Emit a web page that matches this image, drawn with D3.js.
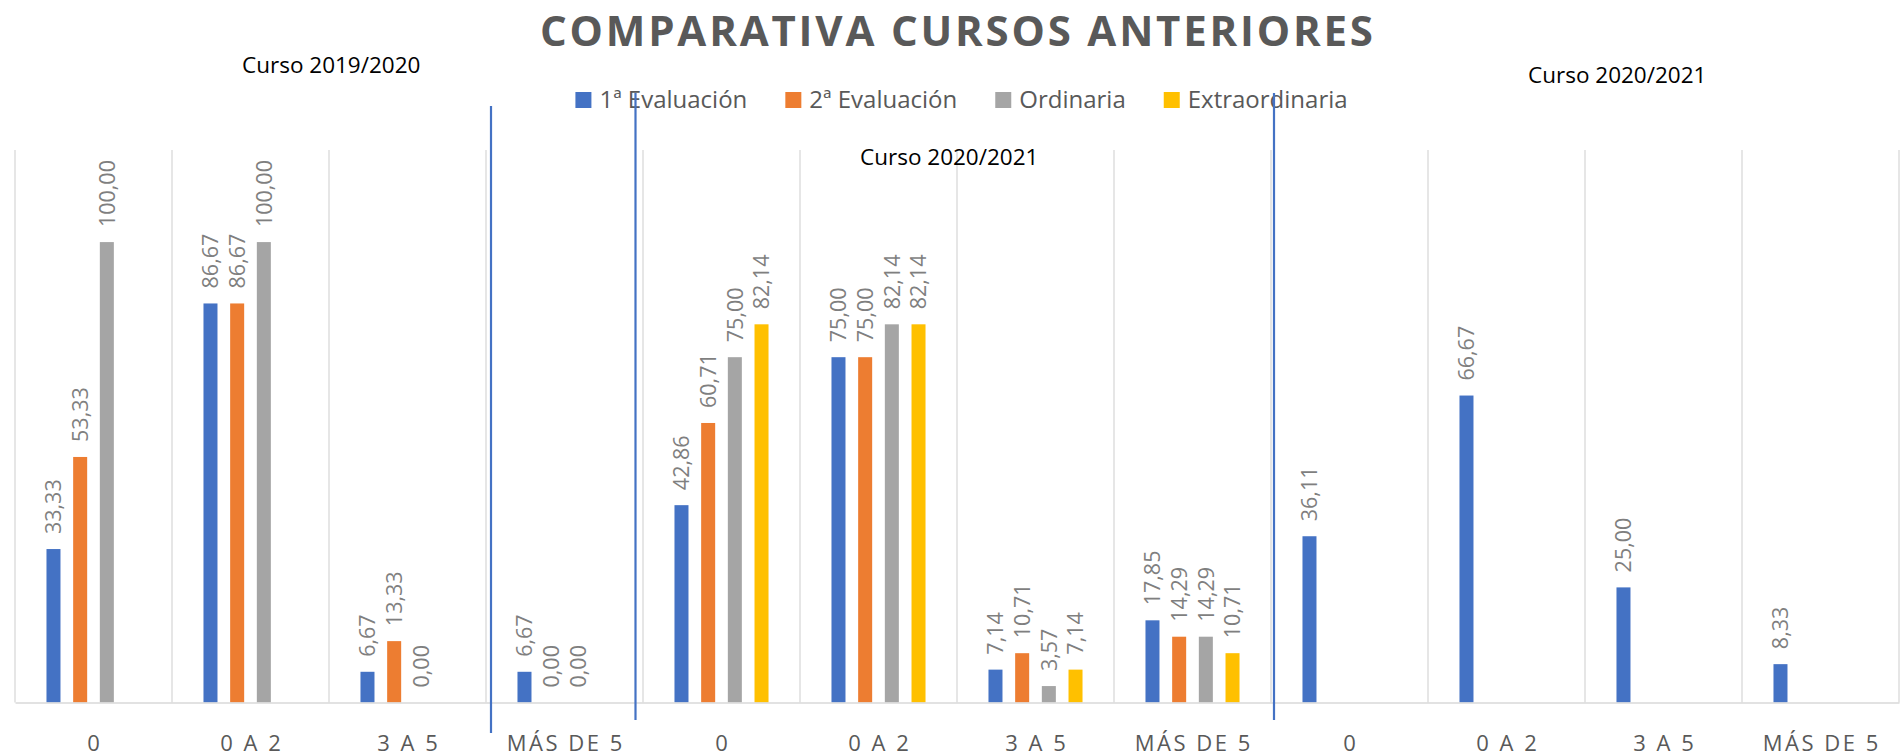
<!DOCTYPE html>
<html>
<head>
<meta charset="utf-8">
<script src="https://cdn.jsdelivr.net/npm/d3@7"></script>
<style>
  body { margin: 0; background: #fff; }
  svg { display: block; font-family: 'Open Sans', sans-serif; }
</style>
</head>
<body>
<div id="chart"></div>
<script>
const categories = ['0', '0 A 2', '3 A 5', 'MÁS DE 5'];
const courses = ['Curso 2019/2020', 'Curso 2020/2021', 'Curso 2020/2021'];
const seriesNames = ['1ª Evaluación', '2ª Evaluación', 'Ordinaria', 'Extraordinaria'];
const colors = ['#4472C4', '#ED7D31', '#A5A5A5', '#FFC000'];

// 12 slots: 4 categories for each of the 3 blocks
const eval1 = [33.33, 86.67, 6.67, 6.67, 42.86, 75.00, 7.14, 17.85, 36.11, 66.67, 25.00, 8.33];
const eval2 = [53.33, 86.67, 13.33, 0.00, 60.71, 75.00, 10.71, 14.29, null, null, null, null];
const ordinaria = [100.00, 100.00, 0.00, 0.00, 75.00, 82.14, 3.57, 14.29, null, null, null, null];
const extraordinaria = [null, null, null, null, 82.14, 82.14, 7.14, 10.71, null, null, null, null];

const seriesValues = [eval1, eval2, ordinaria, extraordinaria];

const width = 1901, height = 755;
const plot = { left: 15, right: 1899, top: 150, bottom: 702.5 };

const slots = d3.range(12);
const rows = slots.map(i => ({
    slot: i,
    category: categories[i % 4],
    values: seriesValues.map((s, k) => ({ series: k, value: s[i] }))
}));

const fmt = d3.formatLocale({ decimal: ',', thousands: '.', grouping: [3], currency: ['', ''] }).format('.2f');

const svg = d3.select('#chart').append('svg')
    .attr('width', width)
    .attr('height', height);

svg.append('rect').attr('width', width).attr('height', height).attr('fill', '#fff');

const x0 = d3.scaleBand().domain(slots).range([plot.left, plot.right]).padding(0);
const x1 = d3.scaleBand().domain(d3.range(4)).range([0, x0.bandwidth()])
    .paddingInner(0.475).paddingOuter(1.18);
const y = d3.scaleLinear().domain([0, 120]).range([plot.bottom, plot.top]);

// vertical gridlines at category boundaries
svg.append('g')
    .selectAll('line')
    .data(d3.range(13))
    .enter().append('line')
    .attr('x1', i => plot.left + i * x0.step())
    .attr('x2', i => plot.left + i * x0.step())
    .attr('y1', y(120))
    .attr('y2', y(0))
    .attr('stroke', '#d9d9d9')
    .attr('stroke-width', 1.3);

// bars
const groups = svg.append('g')
    .selectAll('g')
    .data(rows)
    .enter().append('g')
    .attr('transform', d => `translate(${x0(d.slot)},0)`);

groups.selectAll('rect')
    .data(d => d.values.filter(v => v.value !== null))
    .enter().append('rect')
    .attr('x', v => x1(v.series))
    .attr('width', x1.bandwidth())
    .attr('y', v => y(v.value))
    .attr('height', v => y(0) - y(v.value))
    .attr('fill', v => colors[v.series]);

groups.selectAll('text')
    .data(d => d.values.filter(v => v.value !== null))
    .enter().append('text')
    .attr('transform', v => `translate(${x1(v.series) + x1.bandwidth() / 2},${y(v.value) - 15}) rotate(-90)`)
    .attr('dy', '0.36em')
    .attr('font-size', '21.5px')
    .attr('fill', '#7f7f7f')
    .text(v => fmt(v.value));

// x axis
const xAxis = svg.append('g')
    .attr('transform', `translate(0,${plot.bottom})`)
    .call(d3.axisBottom(x0).tickSize(0).tickPadding(0).tickFormat(i => categories[i % 4]));
xAxis.select('.domain').attr('stroke', '#d9d9d9').attr('stroke-width', 1.6);
xAxis.selectAll('text')
    .attr('y', 48)
    .attr('dy', null)
    .attr('dx', '1.25px')
    .attr('font-size', '22px')
    .attr('font-family', "'Open Sans', sans-serif")
    .attr('letter-spacing', '2.5px')
    .attr('fill', '#595959');

// title
svg.append('text')
    .attr('x', 956.5)
    .attr('y', 45.5)
    .attr('text-anchor', 'middle')
    .attr('font-size', '42px')
    .attr('font-weight', 700)
    .attr('fill', '#595959')
    .attr('textLength', 833)
    .attr('lengthAdjust', 'spacing')
    .text('COMPARATIVA CURSOS ANTERIORES');

// course captions
const captionPos = [[242, 73], [860, 165], [1528, 83]];
svg.append('g')
    .selectAll('text')
    .data(courses)
    .enter().append('text')
    .attr('x', (d, i) => captionPos[i][0])
    .attr('y', (d, i) => captionPos[i][1])
    .attr('font-size', '22.5px')
    .attr('fill', '#000')
    .text(d => d);

// legend
const legend = svg.append('g').attr('transform', 'translate(0,108)');
const items = legend.selectAll('g')
    .data(seriesNames)
    .enter().append('g');
items.append('rect')
    .attr('y', -16)
    .attr('width', 16)
    .attr('height', 16)
    .attr('fill', (d, i) => colors[i]);
items.append('text')
    .attr('x', 24)
    .attr('font-size', '24px')
    .attr('fill', '#595959')
    .text(d => d);
let cursor = 0;
const offsets = [];
items.each(function() {
    offsets.push(cursor);
    cursor += 24 + d3.select(this).select('text').node().getComputedTextLength() + 38;
});
const legendStart = 961.5 - (cursor - 38) / 2;
items.attr('transform', (d, i) => `translate(${legendStart + offsets[i]},0)`);

// blue separator lines between the blocks
const separators = [
    { slot: 4, dx: -152, top: 106, bottom: 733 },
    { slot: 4, dx: -7.5, top: 93, bottom: 720 },
    { slot: 8, dx: 3, top: 93, bottom: 720 }
];
svg.append('g')
    .selectAll('line')
    .data(separators)
    .enter().append('line')
    .attr('x1', d => x0(d.slot) + d.dx)
    .attr('x2', d => x0(d.slot) + d.dx)
    .attr('y1', d => d.top)
    .attr('y2', d => d.bottom)
    .attr('stroke', '#4472C4')
    .attr('stroke-width', 2.2);
</script>
</body>
</html>
